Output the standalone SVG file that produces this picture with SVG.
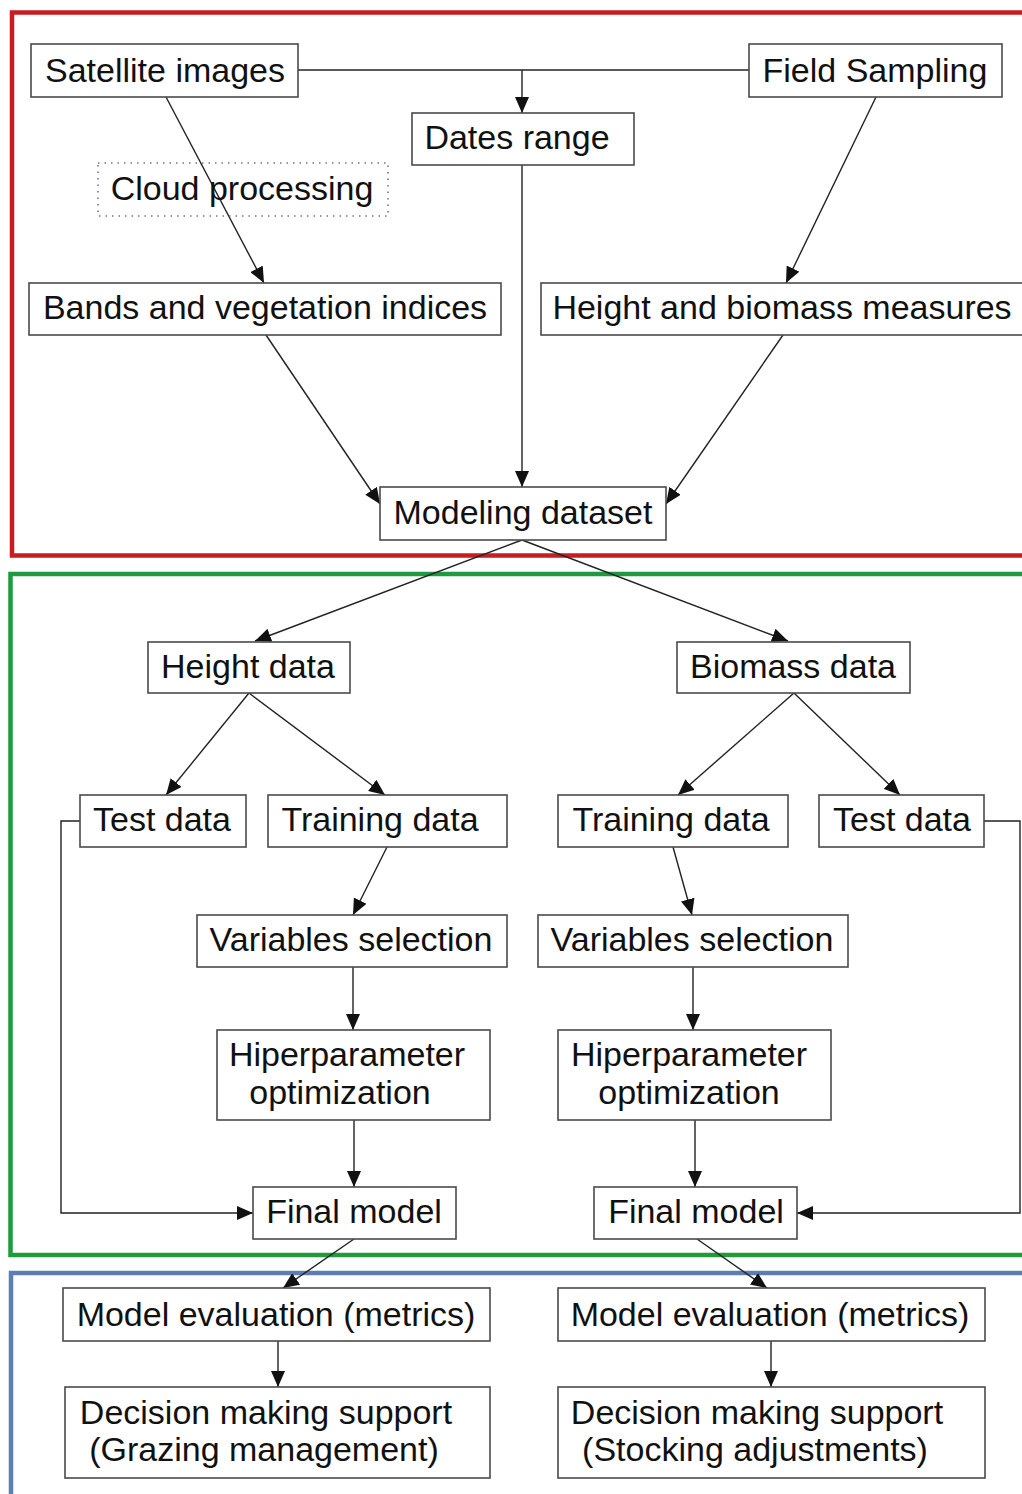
<svg xmlns="http://www.w3.org/2000/svg" width="1022" height="1494" viewBox="0 0 1022 1494">
<defs>
<style>
.box{fill:#fff;stroke:#4a4a4a;stroke-width:1.6}
.dot{fill:none;stroke:#777;stroke-width:1.6;stroke-dasharray:1.5 5}
.t{font-family:"Liberation Sans",Arial,sans-serif;font-size:34px;fill:#111;text-anchor:middle}
.c{fill:none;stroke:#222;stroke-width:1.4}
.arr{marker-end:url(#ah)}
.frame{fill:none;stroke-width:4.5}
</style>
<marker id="ah" markerUnits="userSpaceOnUse" markerWidth="16" markerHeight="14" refX="16" refY="7" orient="auto">
<path d="M0,0 L16,7 L0,14 z" fill="#111"/>
</marker>
</defs>
<rect width="1022" height="1494" fill="#fff"/>
<g id="frames">
<rect class="frame" x="12" y="12.5" width="1030" height="543" stroke="#c71d22"/>
<rect class="frame" x="10.5" y="574" width="1030" height="681" stroke="#1f9a3f"/>
<rect class="frame" x="11" y="1273" width="1030" height="240" stroke="#5b7fb3"/>
</g>
<g id="connectors">
<path class="c" d="M298,70 H749"/>
<path class="c arr" d="M522,70 V113"/>
<path class="c arr" d="M166,97 L264,283"/>
<path class="c arr" d="M876,97 L786,283"/>
<path class="c arr" d="M522,165 V487"/>
<path class="c arr" d="M266,335 L380,504"/>
<path class="c arr" d="M783,335 L666,504"/>
<path class="c arr" d="M522,540 L255,641"/>
<path class="c arr" d="M522,540 L788,641"/>
<path class="c arr" d="M249,693 L166,795"/>
<path class="c arr" d="M249,693 L385,795"/>
<path class="c arr" d="M794,693 L678,795"/>
<path class="c arr" d="M794,693 L900,795"/>
<path class="c arr" d="M387,847 L353,915"/>
<path class="c arr" d="M673,847 L692,915"/>
<path class="c arr" d="M353,967 V1030"/>
<path class="c arr" d="M693,967 V1030"/>
<path class="c arr" d="M354,1120 V1187"/>
<path class="c arr" d="M695,1120 V1187"/>
<path class="c arr" d="M80,821 H61 V1213 H253"/>
<path class="c arr" d="M984,821 H1020 V1213 H797"/>
<path class="c arr" d="M354,1239 L283,1288"/>
<path class="c arr" d="M697,1239 L767,1288"/>
<path class="c arr" d="M278,1341 V1387"/>
<path class="c arr" d="M771,1341 V1387"/>
</g>
<g id="satellite"><rect class="box" x="31" y="44" width="267" height="53"/><text class="t" x="165" y="82">Satellite images</text></g>
<g id="field"><rect class="box" x="749" y="44" width="253" height="53"/><text class="t" x="875" y="82">Field Sampling</text></g>
<g id="dates"><rect class="box" x="412" y="113" width="222" height="52"/><text class="t" x="517" y="149">Dates range</text></g>
<g id="cloud"><rect class="dot" x="98" y="163" width="290" height="53"/><text class="t" x="242" y="200">Cloud processing</text></g>
<g id="bands"><rect class="box" x="29" y="283" width="472" height="52"/><text class="t" x="265" y="319">Bands and vegetation indices</text></g>
<g id="measures"><rect class="box" x="541" y="283" width="500" height="52"/><text class="t" x="782" y="319">Height and biomass measures</text></g>
<g id="modeling"><rect class="box" x="380" y="487" width="286" height="53"/><text class="t" x="523" y="524">Modeling dataset</text></g>
<g id="height-data"><rect class="box" x="148" y="642" width="202" height="51"/><text class="t" x="248" y="678">Height data</text></g>
<g id="biomass-data"><rect class="box" x="677" y="642" width="233" height="51"/><text class="t" x="793" y="678">Biomass data</text></g>
<g id="test-left"><rect class="box" x="80" y="795" width="166" height="52"/><text class="t" x="162" y="831">Test data</text></g>
<g id="training-left"><rect class="box" x="268" y="795" width="239" height="52"/><text class="t" x="380" y="831">Training data</text></g>
<g id="training-right"><rect class="box" x="558" y="795" width="230" height="52"/><text class="t" x="671" y="831">Training data</text></g>
<g id="test-right"><rect class="box" x="819" y="795" width="165" height="52"/><text class="t" x="902" y="831">Test data</text></g>
<g id="varsel-left"><rect class="box" x="197" y="915" width="310" height="52"/><text class="t" x="351" y="951">Variables selection</text></g>
<g id="varsel-right"><rect class="box" x="538" y="915" width="310" height="52"/><text class="t" x="692" y="951">Variables selection</text></g>
<g id="hiper-left"><rect class="box" x="217" y="1030" width="273" height="90"/><text class="t" x="347" y="1066">Hiperparameter</text><text class="t" x="340" y="1104">optimization</text></g>
<g id="hiper-right"><rect class="box" x="558" y="1030" width="273" height="90"/><text class="t" x="689" y="1066">Hiperparameter</text><text class="t" x="689" y="1104">optimization</text></g>
<g id="final-left"><rect class="box" x="253" y="1187" width="203" height="52"/><text class="t" x="354" y="1223">Final model</text></g>
<g id="final-right"><rect class="box" x="594" y="1187" width="203" height="52"/><text class="t" x="696" y="1223">Final model</text></g>
<g id="eval-left"><rect class="box" x="63" y="1288" width="427" height="53"/><text class="t" x="276" y="1326">Model evaluation (metrics)</text></g>
<g id="eval-right"><rect class="box" x="558" y="1288" width="427" height="53"/><text class="t" x="770" y="1326">Model evaluation (metrics)</text></g>
<g id="decision-left"><rect class="box" x="65" y="1387" width="425" height="91"/><text class="t" x="266" y="1424">Decision making support</text><text class="t" x="264" y="1461">(Grazing management)</text></g>
<g id="decision-right"><rect class="box" x="558" y="1387" width="427" height="91"/><text class="t" x="757" y="1424">Decision making support</text><text class="t" x="755" y="1461">(Stocking adjustments)</text></g>
</svg>
